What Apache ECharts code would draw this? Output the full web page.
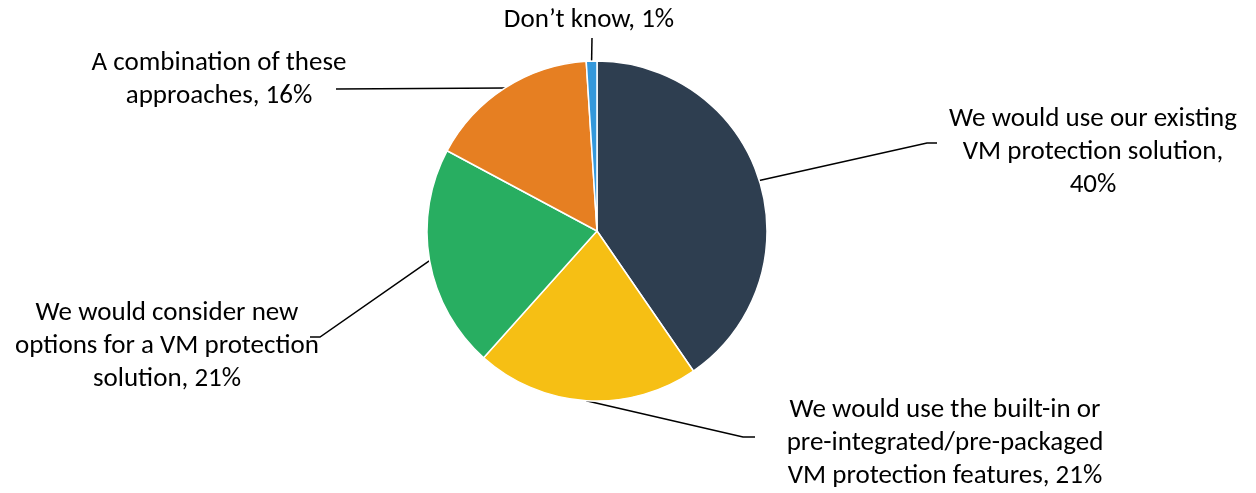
<!DOCTYPE html>
<html>
<head>
<meta charset="utf-8">
<script src="https://cdn.jsdelivr.net/npm/echarts@6/dist/echarts.min.js"></script>
<style>
  html, body { margin: 0; padding: 0; background: #fff; }
  #chart { width: 1256px; height: 493px; }
</style>
</head>
<body>
<div id="chart"></div>
<script>
const categories = [
  'We would use our existing\nVM protection solution,',
  'We would use the built-in or\npre-integrated/pre-packaged\nVM protection features,',
  'We would consider new\noptions for a VM protection\nsolution,',
  'A combination of these\napproaches,',
  'Don\u2019t know,'
];
const values = [40, 21, 21, 16, 1];
const colors = ['#2E3E50', '#F6BF14', '#28AE61', '#E67F22', '#3498DB'];

// label text layout: put the percentage on its own line?
const valueOnNewLine = [true, false, false, false, false];

// where each label sits (text centre) and where its leader line ends
const labelSpots = [
  { x: 1093, y: 152, line: [[927, 143], [937, 143]] },
  { x: 945, y: 443, line: [[743, 437], [755, 437]] },
  { x: 167, y: 346, line: [[320, 337], [310, 337]] },
  { x: 219, y: 80, line: [[336, 89]] },
  { x: 589, y: 20, line: [[592, 38]] }
];

const chart = echarts.init(document.getElementById('chart'));

const option = {
  animation: false,
  series: [{
    type: 'pie',
    center: [597, 231],
    radius: 170,
    startAngle: 90,
    clockwise: true,
    data: categories.map((name, i) => ({
      name: name,
      value: values[i],
      itemStyle: { color: colors[i] }
    })),
    itemStyle: { borderColor: '#fff', borderWidth: 1.5 },
    label: {
      show: true,
      formatter: p => p.name + (valueOnNewLine[p.dataIndex] ? '\n' : ' ') + p.value + '%',
      fontFamily: 'Carlito, Lato, sans-serif',
      fontSize: 27,
      lineHeight: 33,
      color: '#000',
      align: 'center'
    },
    labelLine: {
      show: true,
      length: 20,
      length2: 10,
      lineStyle: { color: '#000', width: 1.5 }
    },
    labelLayout: function (params) {
      const spot = labelSpots[params.dataIndex];
      const start = params.labelLinePoints[0];
      return {
        x: spot.x,
        y: spot.y,
        align: 'center',
        verticalAlign: 'middle',
        labelLinePoints: [start].concat(spot.line)
      };
    }
  }]
};

chart.setOption(option);
</script>
</body>
</html>
